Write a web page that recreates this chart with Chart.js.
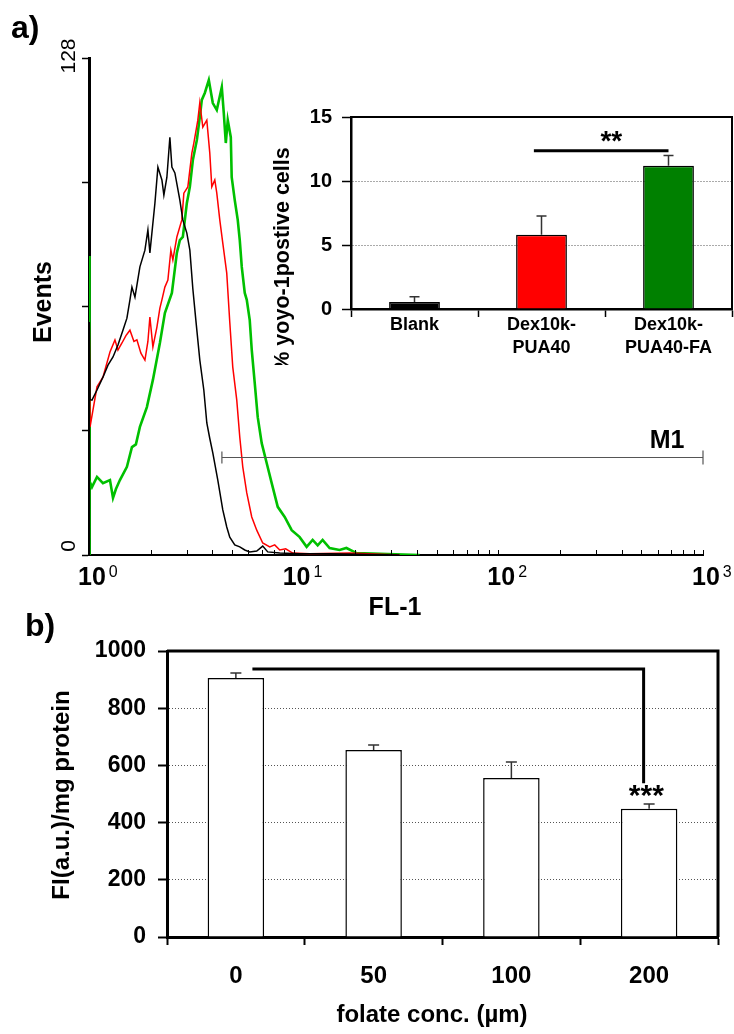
<!DOCTYPE html>
<html>
<head>
<meta charset="utf-8">
<script src="https://cdn.jsdelivr.net/npm/chart.js@4.4.0/dist/chart.umd.min.js"></script>
<style>
  body { margin: 0; background: #fff; }
  #wrap { position: relative; width: 734px; height: 1034px; overflow: hidden; background: #fff; }
  canvas { position: absolute; }
</style>
</head>
<body>
<div id="wrap">
  <canvas id="hist" width="734" height="640" style="left:0;top:0"></canvas>
  <canvas id="inset" width="484" height="270" style="left:250px;top:95px"></canvas>
  <canvas id="folate" width="734" height="434" style="left:0;top:600px"></canvas>
</div>
<script>
// panel a: FL-1 histograms (channel value, events)
const blankFL = [1.0, 1.003, 1.012, 1.034, 1.094, 1.170, 1.238, 1.310, 1.385, 1.465, 1.532, 1.585, 1.621, 1.677, 1.773, 1.876, 1.940, 1.984, 2.099, 2.171, 2.271, 2.322, 2.402, 2.484, 2.541, 2.628, 2.779, 2.874, 3.006, 3.110, 3.217, 3.327, 3.479, 3.639, 3.764, 3.892, 4.026, 4.259, 4.505, 4.71, 4.873, 5.154, 5.453, 5.768, 6.100, 6.60, 7.06, 7.47, 8.55, 10.7, 15.0, 32.9];
const blankEvents = [0, 60, 40, 39.9, 42.5, 45.8, 48.9, 51.0, 54.1, 57.9, 61.0, 65.7, 69.0, 66.4, 74.2, 78.5, 83.7, 77.8, 90.6, 99.9, 96.6, 92.7, 97.3, 107.6, 99.9, 98.4, 91.4, 86.3, 82.9, 78.5, 68.5, 60.5, 50.2, 42.5, 34.0, 30.0, 26.3, 19.3, 11.6, 7.2, 4.6, 2.6, 2.1, 1.3, 0.8, 1.0, 2.3, 0.8, 0.5, 0.3, 0.3, 0];

const puaFL = [1.0, 1.003, 1.012, 1.094, 1.170, 1.266, 1.339, 1.385, 1.449, 1.515, 1.585, 1.658, 1.714, 1.793, 1.876, 1.940, 1.984, 2.052, 2.147, 2.220, 2.271, 2.348, 2.429, 2.512, 2.569, 2.687, 2.842, 2.907, 3.040, 3.181, 3.253, 3.402, 3.479, 3.598, 3.764, 3.892, 3.981, 4.118, 4.211, 4.355, 4.505, 4.71, 4.873, 5.04, 5.272, 5.453, 5.64, 5.90, 6.24, 6.60, 7.06, 7.64, 8.08, 8.55, 9.14, 9.89, 11.97, 18.8, 32.9];
const puaEvents = [0, 60, 33, 43.3, 45.8, 52.3, 55.4, 52.8, 54.6, 56.5, 57.9, 55.0, 55.4, 52.0, 50.2, 55.0, 61.3, 53.6, 58.7, 63.6, 65.7, 69.0, 70.8, 78.5, 76.0, 81.9, 86.3, 93.2, 94.8, 103.5, 106.1, 112.0, 116.5, 110.2, 112.0, 103.5, 94.8, 96.6, 93.2, 86.3, 80.3, 72.6, 60.0, 48.4, 39.9, 30.4, 22.7, 16.0, 9.8, 6.4, 3.1, 2.1, 2.6, 1.3, 1.6, 0.5, 0.3, 0.5, 0];

const faFL = [1.0, 1.002, 1.010, 1.034, 1.094, 1.170, 1.266, 1.310, 1.354, 1.416, 1.532, 1.621, 1.695, 1.773, 1.918, 2.052, 2.220, 2.348, 2.541, 2.687, 2.779, 2.874, 3.006, 3.110, 3.217, 3.365, 3.479, 3.558, 3.680, 3.849, 4.026, 4.211, 4.455, 4.556, 4.66, 4.764, 4.93, 4.98, 5.154, 5.33, 5.453, 5.577, 5.768, 5.90, 6.100, 6.24, 6.452, 6.675, 6.98, 7.38, 7.81, 8.36, 9.04, 9.78, 10.70, 11.57, 12.38, 13.1, 13.85, 14.98, 16.76, 18.1, 20.3, 26.3, 41.2];
const faEvents = [0, 77, 19, 17.5, 20.1, 18.5, 19.3, 14.7, 17.0, 19.3, 22.7, 27.8, 28.5, 33.0, 38.1, 45.1, 54.6, 62.3, 67.5, 77.8, 81.1, 81.9, 90.6, 94.8, 101.7, 106.9, 112.8, 117.2, 119.0, 122.3, 116.4, 114.6, 120.5, 113.8, 106.1, 112.0, 107.6, 97.3, 91.4, 86.3, 81.1, 74.2, 67.5, 65.7, 60.5, 52.8, 44.3, 35.5, 28.8, 23.7, 18.5, 12.4, 9.8, 6.4, 4.6, 2.1, 3.9, 2.5, 3.9, 1.8, 1.3, 1.8, 0.5, 0.3, 0];

const flDecades = [1, 10, 100, 1000];
const flExponents = ['0', '1', '2', '3'];
const eventTicks = [0, 128];
const m1Gate = [4.46, 1000];
const m1Level = 25.2;

// panel a inset
const insetLabels = ['Blank', ['Dex10k-', 'PUA40'], ['Dex10k-', 'PUA40-FA']];
const insetValues = [0.55, 5.8, 11.2];
const insetErrors = [0.4, 1.47, 0.8];
const insetColors = ['#000000', '#ff0000', '#008000'];
const insetSig = { from: 0.94, to: 2, level: 12.37, label: '**', labelAt: 1.55 };

// panel b
const folateLabels = ['0', '50', '100', '200'];
const folateValues = [906, 654, 556, 448];
const folateErrors = [17, 17, 56, 17];
const folateSig = { from: 0.12, to: 2.96, level: 937, drop: 538, label: '***', labelAt: 2.98 };

const FONT = '"Liberation Sans", Arial, sans-serif';
Chart.defaults.font.family = FONT;
Chart.defaults.color = '#000';

const toPoints = (xs, ys) => xs.map((x, i) => ({ x: x, y: ys[i] }));

function rotatedText(ctx, text, x, y, font) {
  ctx.save();
  ctx.font = font;
  ctx.textAlign = 'center';
  ctx.textBaseline = 'middle';
  ctx.translate(x, y);
  ctx.rotate(-Math.PI / 2);
  ctx.fillText(text, 0, 0);
  ctx.restore();
}

// ticks, labels, M1 gate and titles for the histogram
const histExtras = {
  id: 'histExtras',
  afterDraw(chart) {
    const { ctx, scales: { x, y } } = chart;
    const base = y.getPixelForValue(0);
    ctx.save();
    ctx.fillStyle = '#000';
    ctx.strokeStyle = '#000';
    ctx.lineWidth = 1;
    ctx.beginPath();
    flDecades.slice(0, -1).forEach(d => {
      for (let k = 2; k <= 10; k++) {
        const px = Math.round(x.getPixelForValue(d * k)) + 0.5;
        ctx.moveTo(px, base);
        ctx.lineTo(px, base - 5);
      }
    });
    ctx.stroke();

    ctx.textBaseline = 'alphabetic';
    ctx.textAlign = 'left';
    flDecades.forEach((d, i) => {
      const px = x.getPixelForValue(d);
      ctx.font = 'bold 25px ' + FONT;
      ctx.fillText('10', px - 11, base + 30);
      const w = ctx.measureText('10').width;
      ctx.font = '16px ' + FONT;
      ctx.fillText(flExponents[i], px - 11 + w + 3, base + 22);
    });

    eventTicks.forEach(v => {
      const py = y.getPixelForValue(v);
      rotatedText(ctx, String(v), 69, v === 0 ? py - 9 : py - 2, '21px ' + FONT);
    });

    // M1 gate
    const gx1 = x.getPixelForValue(m1Gate[0]);
    const gx2 = x.getPixelForValue(m1Gate[1]);
    const gy = Math.round(y.getPixelForValue(m1Level)) + 0.5;
    ctx.strokeStyle = '#555';
    ctx.lineWidth = 1.2;
    ctx.beginPath();
    ctx.moveTo(gx1, gy); ctx.lineTo(gx2, gy);
    ctx.moveTo(gx1, gy - 6); ctx.lineTo(gx1, gy + 6);
    ctx.moveTo(gx2, gy - 7); ctx.lineTo(gx2, gy + 7);
    ctx.stroke();
    ctx.font = 'bold 25px ' + FONT;
    ctx.textAlign = 'center';
    ctx.fillText('M1', gx2 - 36, gy - 10);

    ctx.fillText('FL-1', 395, 615);
    rotatedText(ctx, 'Events', 44, 302, 'bold 25px ' + FONT);
    ctx.font = 'bold 32px ' + FONT;
    ctx.textAlign = 'left';
    ctx.fillText('a)', 11, 38);
    ctx.restore();
  }
};

// error bars, box top/right, significance marker
function barExtras(errors, boxWidth, capHalf, sig, sigFont, drawTexts) {
  return {
    id: 'barExtras',
    afterDatasetsDraw(chart) {
      const { ctx, chartArea: a, scales: { x, y } } = chart;
      const meta = chart.getDatasetMeta(0);
      const values = chart.data.datasets[0].data;
      ctx.save();
      ctx.strokeStyle = '#333';
      ctx.lineWidth = 1.5;
      ctx.beginPath();
      meta.data.forEach((bar, i) => {
        const top = y.getPixelForValue(values[i] + errors[i]);
        ctx.moveTo(bar.x, bar.y);
        ctx.lineTo(bar.x, top);
        ctx.moveTo(bar.x - capHalf, top);
        ctx.lineTo(bar.x + capHalf, top);
      });
      ctx.stroke();

      ctx.strokeStyle = '#000';
      ctx.lineWidth = boxWidth;
      ctx.beginPath();
      ctx.moveTo(a.left, a.top);
      ctx.lineTo(a.right, a.top);
      ctx.lineTo(a.right, a.bottom);
      ctx.stroke();

      // significance line
      ctx.lineWidth = 3;
      ctx.beginPath();
      const sy = y.getPixelForValue(sig.level);
      ctx.moveTo(x.getPixelForValue(sig.from), sy);
      ctx.lineTo(x.getPixelForValue(sig.to), sy);
      if (sig.drop !== undefined) {
        ctx.lineTo(x.getPixelForValue(sig.to), y.getPixelForValue(sig.drop));
      }
      ctx.stroke();
      ctx.fillStyle = '#000';
      ctx.font = sigFont;
      ctx.textAlign = 'center';
      ctx.textBaseline = 'alphabetic';
      const ly = sig.drop !== undefined ? y.getPixelForValue(sig.drop) + 22 : sy - 1;
      ctx.fillText(sig.label, x.getPixelForValue(sig.labelAt), ly);
      drawTexts(ctx);
      ctx.restore();
    }
  };
}

const gridAt = values => (c => (c.tick && values.includes(c.tick.value)) ? '#555' : 'rgba(0,0,0,0)');

new Chart(document.getElementById('hist'), {
  type: 'line',
  data: {
    datasets: [
      { data: toPoints(blankFL, blankEvents), borderColor: '#000000', borderWidth: 1.5 },
      { data: toPoints(puaFL, puaEvents), borderColor: '#ff0000', borderWidth: 1.5 },
      { data: toPoints(faFL, faEvents), borderColor: '#00c000', borderWidth: 2.6 }
    ]
  },
  options: {
    responsive: false,
    animation: false,
    devicePixelRatio: 1,
    layout: { padding: { left: 0, top: 58, right: 31, bottom: 0 } },
    elements: { point: { radius: 0 }, line: { tension: 0 } },
    plugins: { legend: { display: false }, tooltip: { enabled: false } },
    scales: {
      x: {
        type: 'logarithmic', min: 1, max: 1000,
        grid: { display: false },
        ticks: { display: false },
        border: { color: '#000', width: 2 },
        afterFit: s => { s.height = 85; }
      },
      y: {
        min: 0, max: 128,
        ticks: { stepSize: 32, callback: () => '' },
        grid: { drawOnChartArea: false, tickLength: 7, tickColor: '#000', tickWidth: 1.5 },
        border: { color: '#000', width: 3 },
        afterFit: s => { s.width = 89; }
      }
    }
  },
  plugins: [histExtras]
});

new Chart(document.getElementById('inset'), {
  type: 'bar',
  data: {
    labels: insetLabels,
    datasets: [{
      data: insetValues,
      backgroundColor: insetColors,
      borderColor: '#000',
      borderWidth: 1.5,
      barPercentage: 0.4,
      categoryPercentage: 1
    }]
  },
  options: {
    responsive: false,
    animation: false,
    devicePixelRatio: 1,
    layout: { padding: { left: 0, top: 20, right: 2, bottom: 0 } },
    plugins: { legend: { display: false }, tooltip: { enabled: false } },
    scales: {
      x: {
        grid: { offset: true, drawOnChartArea: false, tickLength: 8, tickColor: '#000', tickWidth: 1.5 },
        border: { color: '#000', width: 2.5 },
        ticks: { font: { size: 18, weight: 'bold', lineHeight: 1.3 }, color: '#000', padding: -4, maxRotation: 0, autoSkip: false },
        afterFit: s => { s.height = 56; }
      },
      y: {
        min: 0, max: 15,
        ticks: { stepSize: 5, font: { size: 20, weight: 'bold' }, color: '#000', padding: 10 },
        grid: { color: gridAt([5, 10]), tickColor: '#000', tickLength: 9, tickWidth: 1.5 },
        border: { color: '#000', width: 2.5, dash: [1, 2] },
        afterFit: s => { s.width = 101; }
      }
    }
  },
  plugins: [barExtras(insetErrors, 2, 5, insetSig, 'bold 28px ' + FONT, ctx => {
    rotatedText(ctx, '% yoyo-1postive cells', 33, 164, 'bold 21.5px ' + FONT);
  })]
});

new Chart(document.getElementById('folate'), {
  type: 'bar',
  data: {
    labels: folateLabels,
    datasets: [{
      data: folateValues,
      backgroundColor: '#ffffff',
      borderColor: '#000',
      borderWidth: 1.5,
      barPercentage: 0.41,
      categoryPercentage: 1
    }]
  },
  options: {
    responsive: false,
    animation: false,
    devicePixelRatio: 1,
    layout: { padding: { left: 0, top: 51, right: 16, bottom: 0 } },
    plugins: { legend: { display: false }, tooltip: { enabled: false } },
    scales: {
      x: {
        grid: { offset: true, drawOnChartArea: false, tickLength: 8, tickColor: '#000', tickWidth: 2 },
        border: { color: '#000', width: 3 },
        ticks: { font: { size: 24, weight: 'bold' }, color: '#000', padding: 17, maxRotation: 0, autoSkip: false },
        afterFit: s => { s.height = 97; }
      },
      y: {
        min: 0, max: 1000,
        ticks: { stepSize: 200, font: { size: 23, weight: 'bold' }, color: '#000', padding: 12, callback: v => String(v) },
        grid: { color: gridAt([200, 400, 600, 800]), tickColor: '#000', tickLength: 9, tickWidth: 2 },
        border: { color: '#000', width: 3, dash: [1, 2] },
        afterFit: s => { s.width = 167; }
      }
    }
  },
  plugins: [barExtras(folateErrors, 3, 5.5, folateSig, 'bold 30px ' + FONT, ctx => {
    rotatedText(ctx, 'FI(a.u.)/mg protein', 62, 195, 'bold 24px ' + FONT);
    ctx.font = 'bold 24px ' + FONT;
    ctx.textAlign = 'center';
    ctx.fillText('folate conc. (µm)', 432, 422);
    ctx.font = 'bold 32px ' + FONT;
    ctx.textAlign = 'left';
    ctx.fillText('b)', 25, 36);
  })]
});
</script>
</body>
</html>
